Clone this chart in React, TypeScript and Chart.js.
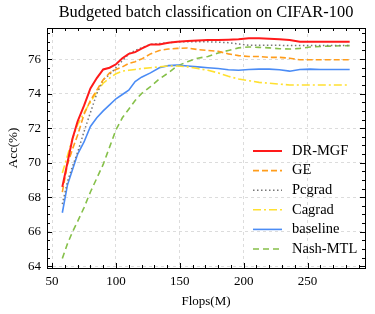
import React, { useEffect, useRef } from "react";
import { Chart, registerables } from "chart.js";

Chart.register(...registerables);

// ---- data ----
const flops = [58, 62, 66, 70, 75, 80, 85, 90, 95, 100, 105, 110, 115, 120, 127, 134, 141, 148, 156, 164, 172, 180, 188, 196, 204, 212, 220, 228, 236, 244, 252, 260, 268, 276, 283];

const drMgf = [68.6, 70.0, 71.4, 72.4, 73.3, 74.3, 74.9, 75.4, 75.5, 75.7, 76.05, 76.3, 76.4, 76.6, 76.85, 76.85, 76.95, 77.0, 77.05, 77.08, 77.1, 77.1, 77.12, 77.15, 77.2, 77.2, 77.18, 77.15, 77.1, 77.0, 77.0, 77.0, 77.0, 77.0, 77.0];
const ge = [68.3, 69.9, 70.8, 71.6, 72.8, 73.6, 74.2, 74.8, 75.2, 75.4, 75.55, 75.75, 75.85, 76.0, 76.3, 76.5, 76.58, 76.62, 76.64, 76.55, 76.5, 76.45, 76.3, 76.2, 76.15, 76.15, 76.1, 76.1, 76.05, 75.96, 75.96, 75.96, 75.96, 75.96, 75.96];
const pcgrad = [67.6, 68.9, 69.8, 70.6, 71.8, 72.9, 74.0, 74.8, 75.1, 75.5, 75.9, 76.3, 76.5, 76.65, 76.85, 76.9, 76.95, 77.0, 77.0, 77.0, 77.0, 76.98, 76.95, 76.88, 76.8, 76.8, 76.8, 76.8, 76.78, 76.78, 76.78, 76.78, 76.78, 76.78, 76.78];
const cagrad = [69.4, 70.4, 71.4, 72.2, 72.9, 73.5, 74.1, 74.6, 74.9, 75.15, 75.3, 75.35, 75.4, 75.45, 75.5, 75.55, 75.6, 75.6, 75.55, 75.45, 75.35, 75.2, 75.0, 74.85, 74.75, 74.65, 74.6, 74.55, 74.5, 74.5, 74.5, 74.5, 74.5, 74.5, 74.5];
const baseline = [67.1, 68.7, 69.6, 70.5, 71.2, 72.1, 72.6, 73.0, 73.35, 73.7, 73.95, 74.2, 74.7, 74.95, 75.2, 75.5, 75.62, 75.65, 75.6, 75.55, 75.5, 75.45, 75.38, 75.35, 75.4, 75.42, 75.42, 75.38, 75.3, 75.4, 75.42, 75.4, 75.4, 75.4, 75.4];
const nashMtl = [64.45, 65.3, 66.0, 66.6, 67.4, 68.3, 69.1, 69.9, 70.9, 71.9, 72.6, 73.1, 73.6, 74.0, 74.4, 74.85, 75.2, 75.6, 75.85, 76.05, 76.15, 76.35, 76.5, 76.65, 76.7, 76.68, 76.65, 76.6, 76.58, 76.62, 76.7, 76.73, 76.75, 76.77, 76.78];

const seriesLabels = ["DR-MGF", "GE", "Pcgrad", "Cagrad", "baseline", "Nash-MTL"];
const xTicks = [50, 100, 150, 200, 250];
const yTicks = [64, 66, 68, 70, 72, 74, 76];
const titleText = "Budgeted batch classification on CIFAR-100";

const FONT = "'Liberation Serif', 'Times New Roman', serif";

const styles = [
  { color: "#ff1a1a", width: 2, dash: [] as number[] },
  { color: "#ff9d1c", width: 1.6, dash: [6, 3] },
  { color: "#777777", width: 1.5, dash: [1.5, 2.5] },
  { color: "#ffe030", width: 1.6, dash: [8, 3, 2, 3] },
  { color: "#4b8cf5", width: 1.6, dash: [] as number[] },
  { color: "#86c04a", width: 1.6, dash: [6, 4] },
];

const frameTicks = {
  id: "frameTicks",
  afterDatasetsDraw(chart: any) {
    const { ctx, chartArea, scales } = chart;
    const { left, right, top, bottom } = chartArea;
    const x = scales.x;
    const y = scales.y;
    ctx.save();
    ctx.strokeStyle = "#000";
    ctx.lineWidth = 1;
    ctx.setLineDash([]);
    ctx.strokeRect(Math.round(left) + 0.5, Math.round(top) + 0.5, Math.round(right - left), Math.round(bottom - top));
    const seg = (x1: number, y1: number, x2: number, y2: number) => {
      ctx.beginPath();
      ctx.moveTo(x1, y1);
      ctx.lineTo(x2, y2);
      ctx.stroke();
    };
    for (let v = 50; v <= x.max; v += 10) {
      const px = Math.round(x.getPixelForValue(v)) + 0.5;
      const len = v % 50 === 0 ? 5 : 3;
      seg(px, bottom, px, bottom - len);
      seg(px, top, px, top + len);
    }
    for (let k = 0; 64 + k * 0.5 <= y.max; k++) {
      const v = 64 + k * 0.5;
      const py = Math.round(y.getPixelForValue(v)) + 0.5;
      const len = k % 4 === 0 ? 5 : 3;
      seg(left, py, left + len, py);
      seg(right, py, right - len, py);
    }
    // title centred over the plot area
    ctx.fillStyle = "#000";
    ctx.font = `16.4px ${FONT}`;
    ctx.textAlign = "center";
    ctx.textBaseline = "middle";
    ctx.fillText(titleText, (left + right) / 2, 13);
    ctx.restore();
  },
};

const insideLegend = {
  id: "insideLegend",
  afterDraw(chart: any) {
    const { ctx, chartArea } = chart;
    const x0 = chartArea.right - 112;
    const x1 = x0 + 29;
    const tx = x0 + 39;
    const y0 = chartArea.top + 123;
    const step = 19.6;
    ctx.save();
    chart.data.datasets.forEach((ds: any, i: number) => {
      const yy = y0 + i * step;
      ctx.strokeStyle = ds.borderColor;
      ctx.lineWidth = ds.borderWidth;
      ctx.setLineDash(ds.borderDash || []);
      ctx.beginPath();
      ctx.moveTo(x0, yy);
      ctx.lineTo(x1, yy);
      ctx.stroke();
      ctx.setLineDash([]);
      ctx.fillStyle = "#000";
      ctx.font = `14.5px ${FONT}`;
      ctx.textBaseline = "middle";
      ctx.textAlign = "left";
      ctx.fillText(ds.label, tx, yy);
    });
    ctx.restore();
  },
};

export default function App() {
  const ref = useRef<HTMLCanvasElement | null>(null);
  useEffect(() => {
    document.body.style.margin = "0";
    if (!ref.current) return;
    const all = [drMgf, ge, pcgrad, cagrad, baseline, nashMtl];
    const chart = new Chart(ref.current, {
      type: "line",
      data: {
        datasets: all.map((s, i) => ({
          label: seriesLabels[i],
          data: flops.map((f, j) => ({ x: f, y: s[j] })),
          borderColor: styles[i].color,
          backgroundColor: styles[i].color,
          borderWidth: styles[i].width,
          borderDash: styles[i].dash,
          pointRadius: 0,
          tension: 0,
          fill: false,
        })),
      },
      options: {
        responsive: false,
        animation: false,
        layout: { padding: { left: 6, right: 10, top: 28, bottom: 5 } },
        plugins: {
          legend: { display: false },
          tooltip: { enabled: false },
          title: { display: false },
        },
        scales: {
          x: {
            type: "linear",
            min: 46,
            max: 295,
            afterBuildTicks: (scale: any) => {
              scale.ticks = xTicks.map((v) => ({ value: v }));
            },
            afterFit: (scale: any) => {
              scale.height = 41;
            },
            grid: { color: "#dcdcdc", lineWidth: 1, drawTicks: false },
            border: { display: false, dash: [3, 3] },
            ticks: { color: "#000", font: { family: FONT, size: 13 }, padding: 6, maxRotation: 0 },
            title: {
              display: true,
              text: "Flops(M)",
              color: "#000",
              font: { family: FONT, size: 13 },
              padding: { top: 2, bottom: 0 },
            },
          },
          y: {
            type: "linear",
            min: 63.9,
            max: 77.8,
            afterBuildTicks: (scale: any) => {
              scale.ticks = yTicks.map((v) => ({ value: v }));
            },
            afterFit: (scale: any) => {
              scale.width = 41;
            },
            grid: { color: "#dcdcdc", lineWidth: 1, drawTicks: false },
            border: { display: false, dash: [3, 3] },
            ticks: { color: "#000", font: { family: FONT, size: 13 }, padding: 6 },
            title: {
              display: true,
              text: "Acc(%)",
              color: "#000",
              font: { family: FONT, size: 13 },
              padding: { top: 0, bottom: 2 },
            },
          },
        },
      },
      plugins: [frameTicks, insideLegend],
    } as any);
    return () => chart.destroy();
  }, []);
  return (
    <div style={{ width: 375, height: 314 }}>
      <canvas ref={ref} width={375} height={314} style={{ display: "block" }} />
    </div>
  );
}
